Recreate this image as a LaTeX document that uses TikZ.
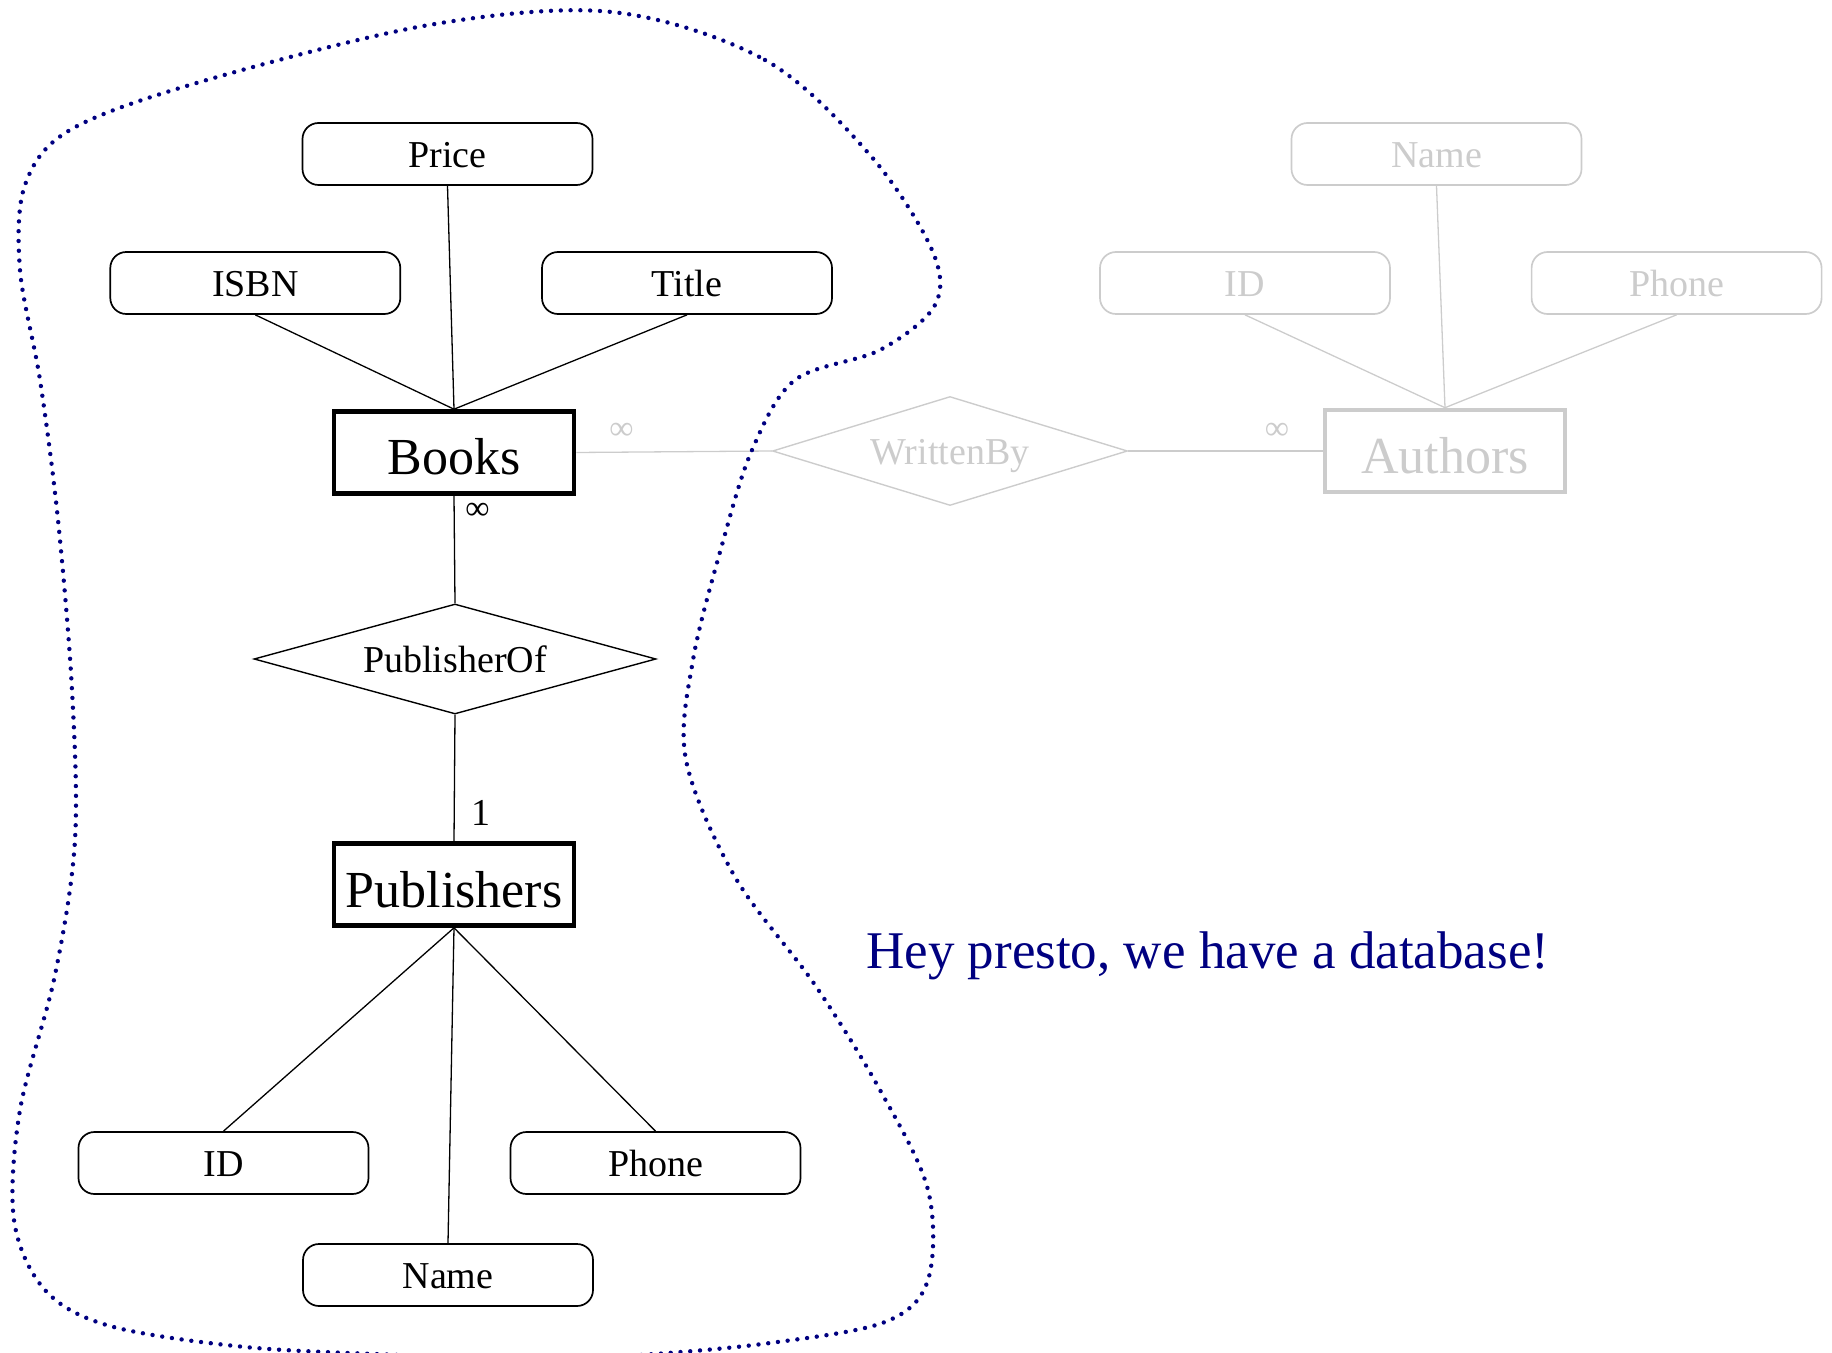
\documentclass[tikz,border=0pt]{standalone}
\usepackage{fontspec}
\setmainfont{Liberation Serif}
\usepackage{tikz}
\usetikzlibrary{shapes.geometric}

\definecolor{faded}{RGB}{204,204,204}
\definecolor{hilite}{RGB}{0,0,128}

\begin{document}
\begin{tikzpicture}[x=0.5pt,y=-0.5pt,
    entity/.style={draw,line width=2.3pt,minimum width=120pt,minimum height=41pt,inner sep=0pt,text height=22.5pt,text depth=0pt,font=\fontsize{26}{30}\selectfont},
    attrib/.style={draw,line width=0.85pt,rounded corners=8pt,minimum width=145pt,minimum height=31pt,inner sep=0pt,text height=13.5pt,text depth=0pt,font=\fontsize{19}{22}\selectfont},
    relship/.style={draw,diamond,aspect=3.6,line width=0.7pt,inner sep=0pt,text height=13.7pt,text depth=0pt,font=\fontsize{19}{22}\selectfont},
    link/.style={line width=0.65pt},
    card/.style={inner sep=0pt,font=\fontsize{17}{20}\selectfont},
    ghost/.style={draw=faded,text=faded}]
  \useasboundingbox (0,0) rectangle (1832,1353);

  % the part that is not built yet
  \node[entity,ghost] (authors) at (1445,451) {Authors};
  \node[attrib,ghost] (aname) at (1436.5,154) {Name};
  \node[attrib,ghost] (aid) at (1245,283) {ID};
  \node[attrib,ghost] (aphone) at (1676.6,283) {Phone};
  \node[relship,ghost,minimum width=177.5pt,minimum height=54.5pt] (writtenby) at (950,451) {WrittenBy};

  % books and publishers
  \node[entity] (books) at (454,452.5) {Books};
  \node[entity] (publishers) at (454,884.5) {Publishers};
  \node[relship,minimum width=201pt,minimum height=55pt] (publisherof) at (455,659) {PublisherOf};

  \node[attrib] (price) at (447.5,154) {Price};
  \node[attrib] (isbn) at (255.3,283) {ISBN};
  \node[attrib] (title) at (687,283) {Title};

  \node[attrib] (pid) at (223.5,1163) {ID};
  \node[attrib] (pphone) at (655.5,1163) {Phone};
  \node[attrib] (pname) at (448,1275) {Name};

  \draw[link,faded] (books.east) -- (writtenby.west);
  \draw[link,faded] (writtenby.east) -- (authors.west);
  \foreach \a in {aname,aid,aphone}
    \draw[link,faded] (authors.north) -- (\a.south);

  \foreach \a in {price,isbn,title}
    \draw[link] (books.north) -- (\a.south);
  \foreach \a in {pid,pname,pphone}
    \draw[link] (publishers.south) -- (\a.north);
  \draw[link] (books.south) -- (publisherof.north);
  \draw[link] (publisherof.south) -- (publishers.north);

  % cardinalities
  \node[card,text=faded] (infl) at (621.5,431) {∞};
  \node[card,text=faded] (infr) at (1277,431) {∞};
  \node[card] (infb) at (477.6,511.5) {∞};
  \node[inner sep=0pt,font=\fontsize{19}{22}\selectfont] (one) at (481,812.5) {1};

  % the loop round what we have so far
  \draw[hilite,line width=2.2pt,line cap=round,dash pattern=on 0pt off 4.9pt]
    plot[smooth cycle,tension=0.55] coordinates {
      (612,12) (765,60) (870,155) (932,250) (935,305) (880,350) (795,380)
      (752,450) (722,545) (693,660) (686,760) (735,877) (815,985) (880,1090)
      (928,1190) (928,1280) (885,1322) (770,1343) (640,1355) (520,1359)
      (400,1355) (245,1347) (110,1326) (45,1290) (14,1220) (20,1110)
      (55,975) (75,840) (72,690) (58,520) (40,380) (20,270) (25,185)
      (70,130) (200,82) (429,25)};

  \node[anchor=base west,inner sep=0pt,text=hilite,font=\fontsize{26.5}{30}\selectfont] (slogan) at (866,968) {Hey presto, we have a database!};
\end{tikzpicture}
\end{document}
